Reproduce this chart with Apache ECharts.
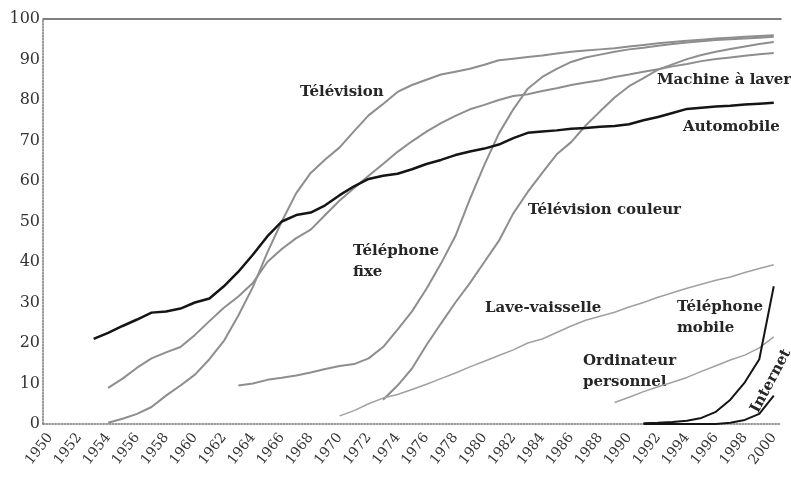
<!DOCTYPE html>
<html><head><meta charset="utf-8">
<script src="https://cdn.jsdelivr.net/npm/echarts@6/dist/echarts.min.js"></script>
<style>html,body{margin:0;padding:0;background:#fff}#c{width:791px;height:478px}</style>
</head><body><div id="c"></div>
<script>
// Categories: years 1950..2000
const years = [];
for (let y = 1950; y <= 2000; y++) years.push(String(y));

// Series values (percent of households), each with the first year it appears
const automobileStart = 1953;
const automobile = [21,22.5,24.2,25.8,27.5,27.8,28.5,30,31,34,37.6,41.8,46.3,50,51.6,52.2,54,56.5,58.7,60.5,61.3,61.8,62.9,64.2,65.2,66.4,67.3,68,69,70.6,71.9,72.2,72.5,72.9,73.1,73.4,73.6,74,75,75.8,76.8,77.8,78.1,78.4,78.6,78.9,79.1,79.3];

const televisionStart = 1954;
const television = [0.3,1.3,2.5,4.2,7,9.5,12.2,16,20.5,26.8,33.8,42.3,50,57,62,65.3,68.3,72.3,76.2,79,82,83.7,85,86.3,87,87.7,88.7,89.8,90.2,90.6,91,91.5,91.9,92.2,92.5,92.8,93.2,93.6,94,94.3,94.6,94.9,95.2,95.4,95.6,95.8,96];

const machineStart = 1954;
const machineALaver = [8.9,11.2,13.9,16.2,17.7,19,22,25.4,28.7,31.5,34.8,40,43.2,45.9,48,51.6,55.2,58.3,61.3,64.2,67.2,69.8,72.2,74.3,76.1,77.7,78.8,80,81,81.4,82.2,82.9,83.7,84.3,84.9,85.7,86.3,87,87.6,88.3,88.9,89.6,90.1,90.5,90.9,91.3,91.6];

const telFixeStart = 1963;
const telephoneFixe = [9.5,10,10.9,11.4,12,12.7,13.6,14.3,14.8,16.2,19,23.3,27.8,33.4,39.6,46.4,55.5,64,71.7,77.7,82.8,85.7,87.7,89.4,90.5,91.2,91.9,92.5,92.9,93.4,93.8,94.2,94.5,94.8,95,95.2,95.4,95.6];

const tvCouleurStart = 1973;
const televisionCouleur = [6,9.5,13.7,19.5,24.8,30,34.8,40,45.2,52,57.3,62,66.6,69.6,73.7,77.2,80.6,83.4,85.4,87.5,88.8,90.1,91.1,91.9,92.6,93.2,93.8,94.3];

const laveVaisselleStart = 1970;
const laveVaisselle = [2,3.3,5,6.4,7.3,8.5,9.8,11.2,12.6,14.1,15.5,16.9,18.3,20,21,22.6,24.2,25.6,26.6,27.6,28.9,30,31.3,32.4,33.5,34.5,35.5,36.3,37.4,38.4,39.3];

const ordinateurStart = 1989;
const ordinateur = [5.3,6.6,8,9.2,10.3,11.5,13,14.4,15.8,17,18.8,21.5];

const mobileStart = 1991;
const telephoneMobile = [0.2,0.3,0.5,0.8,1.5,3,6,10.3,16,34];

const internetStart = 1991;
const internet = [0,0,0,0,0,0,0.3,1,2.5,7];

// y-axis tick labels
const yTicks = [0,10,20,30,40,50,60,70,80,90,100];

function pad(start, vals) {
  return new Array(start - 1950).fill(null).concat(vals);
}

const gray = '#8e8e8e';
const black = '#151515';
function line(name, start, vals, color, width) {
  return {
    name, type: 'line', data: pad(start, vals), showSymbol: false, symbol: 'none',
    smooth: false, connectNulls: false, animation: false,
    lineStyle: { color, width }, emphasis: { disabled: true }
  };
}

const annoFont = 'bold 15px "DejaVu Serif", serif';
function txt(text, x, y, extra) {
  return Object.assign({
    type: 'text', left: x, top: y,
    style: { text, font: annoFont, fill: '#262626', lineHeight: 21 }
  }, extra || {});
}

const chart = echarts.init(document.getElementById('c'), null, { renderer: 'canvas' });
chart.setOption({
  backgroundColor: '#fff',
  animation: false,
  grid: { left: 43, right: 10, top: 19, bottom: 54 },
  xAxis: [{
    type: 'category', data: years, boundaryGap: true,
    axisLine: { lineStyle: { color: '#777', width: 1.5, type: 'dotted' } },
    axisTick: { show: false },
    axisLabel: { interval: 1, rotate: 52, margin: 11, color: '#333',
      fontFamily: '"DejaVu Serif", serif', fontSize: 14 },
    splitLine: { show: false }
  }, {
    type: 'category', data: years, position: 'top', boundaryGap: true,
    axisLine: { lineStyle: { color: '#555', width: 1.5 } },
    axisTick: { show: false }, axisLabel: { show: false }
  }],
  yAxis: {
    type: 'value', min: 0, max: 100, interval: 10,
    axisLine: { show: true, lineStyle: { color: '#777', width: 1.5, type: 'dotted' } },
    axisTick: { show: false },
    axisLabel: { color: '#333', fontFamily: '"DejaVu Serif", serif', fontSize: 16, margin: 3,
      formatter: v => (yTicks.indexOf(v) >= 0 ? String(v) : '') },
    splitLine: { show: false }
  },
  series: [
    line('Télévision', televisionStart, television, gray, 2),
    line('Machine à laver', machineStart, machineALaver, gray, 2),
    line('Téléphone fixe', telFixeStart, telephoneFixe, gray, 2),
    line('Télévision couleur', tvCouleurStart, televisionCouleur, gray, 2),
    line('Lave-vaisselle', laveVaisselleStart, laveVaisselle, '#a0a0a0', 1.5),
    line('Ordinateur personnel', ordinateurStart, ordinateur, '#a0a0a0', 1.5),
    line('Internet', internetStart, internet, black, 2),
    line('Téléphone mobile', mobileStart, telephoneMobile, black, 2),
    line('Automobile', automobileStart, automobile, black, 2.5)
  ],
  graphic: [
    txt('Télévision', 300, 82),
    txt('Machine à laver', 657, 70),
    txt('Automobile', 683, 117),
    txt('Télévision couleur', 528, 200),
    txt('Téléphone\nfixe', 353, 241),
    txt('Lave-vaisselle', 485, 298),
    txt('Téléphone\nmobile', 677, 297),
    txt('Ordinateur\npersonnel', 583, 351),
    { type: 'text', x: 771, y: 381, rotation: Math.PI * 62 / 180,
      style: { text: 'Internet', font: annoFont, fill: '#262626', align: 'center', verticalAlign: 'middle' } }
  ]
});
</script>
</body></html>
